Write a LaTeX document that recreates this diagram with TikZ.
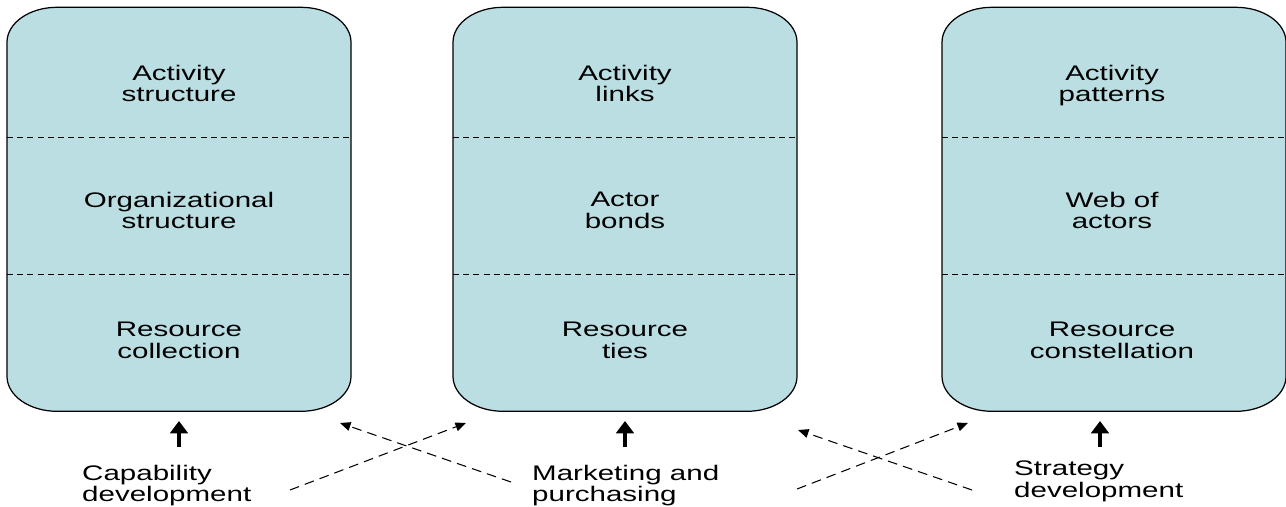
\documentclass[tikz,border=0pt]{standalone}
\usepackage{fontspec}
\newfontfamily\figfont{Liberation Sans}[FakeStretch=1.4]
\usetikzlibrary{arrows.meta}

\definecolor{colfill}{RGB}{187,222,227}

\tikzset{
    colbox/.style={draw=black,line width=0.7pt,fill=colfill},
    divider/.style={draw=black,line width=0.4pt,dash pattern=on 3.4pt off 2.4pt},
    txt/.style={align=center,text depth=3pt,font=\figfont\fontsize{12}{12.4}\selectfont},
    lbl/.style={align=left,anchor=west,text depth=3pt,font=\figfont\fontsize{12}{12.4}\selectfont},
    bigarrow/.style={line width=2pt,-{Triangle[width=10pt,length=7pt]}},
    dasharrow/.style={line width=0.6pt,dash pattern=on 5.5pt off 3.5pt,-{Triangle[width=5pt,length=6pt]}}
}

\begin{document}
\begin{tikzpicture}
        % Background
        \useasboundingbox (0,0) rectangle (25.72,10.12);

        % Columns
        \foreach \x/\n in {0.14/a,9.06/b,18.84/c} {
            \node[minimum width=6.88cm,minimum height=8.08cm,inner sep=0,anchor=south west] (col\n) at (\x,1.88) {};
            \draw[colbox] ([xshift=1cm]col\n.north west) -- ++(4.88,0)
                arc[start angle=90,end angle=0,x radius=1cm,y radius=0.7cm] -- ++(0,-6.68)
                arc[start angle=0,end angle=-90,x radius=1cm,y radius=0.7cm] -- ++(-4.88,0)
                arc[start angle=270,end angle=180,x radius=1cm,y radius=0.7cm] -- ++(0,6.68)
                arc[start angle=180,end angle=90,x radius=1cm,y radius=0.7cm] -- cycle;
            \draw[divider] (col\n.west |- 0,7.38) -- (col\n.east |- 0,7.38);
            \draw[divider] (col\n.west |- 0,4.64) -- (col\n.east |- 0,4.64);
        }

        % Labels
        \node[txt] (actstruct) at (3.58,8.40) {Activity\\structure};
        \node[txt] (orgstruct) at (3.58,5.86) {Organizational\\structure};
        \node[txt] (rescoll) at (3.58,3.26) {Resource\\collection};

        \node[txt] (actlinks) at (12.50,8.40) {Activity\\links};
        \node[txt] (actbonds) at (12.50,5.86) {Actor\\bonds};
        \node[txt] (resties) at (12.50,3.26) {Resource\\ties};

        \node[txt] (actpatt) at (22.24,8.40) {Activity\\patterns};
        \node[txt] (webact) at (22.24,5.86) {Web of\\actors};
        \node[txt] (rescons) at (22.24,3.26) {Resource\\constellation};

        \node[lbl] (capdev) at (1.52,0.40) {Capability\\development};
        \node[lbl] (markpur) at (10.52,0.40) {Marketing and\\purchasing};
        \node[lbl] (stratdev) at (20.16,0.48) {Strategy\\development};

        % Arrows
        \coordinate (upa) at (3.58,1.18);
        \coordinate (upb) at (12.50,1.18);
        \coordinate (upc) at (22.00,1.18);
        \draw[bigarrow] (upa) -- (upa |- 0,1.70);
        \draw[bigarrow] (upb) -- (upb |- 0,1.70);
        \draw[bigarrow] (upc) -- (upc |- 0,1.70);

        \coordinate (tailab) at (5.80,0.32);
        \coordinate (headab) at (9.32,1.66);
        \coordinate (tailba) at (10.22,0.48);
        \coordinate (headba) at (6.80,1.66);
        \coordinate (tailbc) at (15.94,0.34);
        \coordinate (headbc) at (19.36,1.66);
        \coordinate (tailcb) at (19.44,0.32);
        \coordinate (headcb) at (15.96,1.52);
        \draw[dasharrow] (tailab) -- (headab);
        \draw[dasharrow] (tailba) -- (headba);
        \draw[dasharrow] (tailbc) -- (headbc);
        \draw[dasharrow] (tailcb) -- (headcb);

    \end{tikzpicture}
\end{document}
